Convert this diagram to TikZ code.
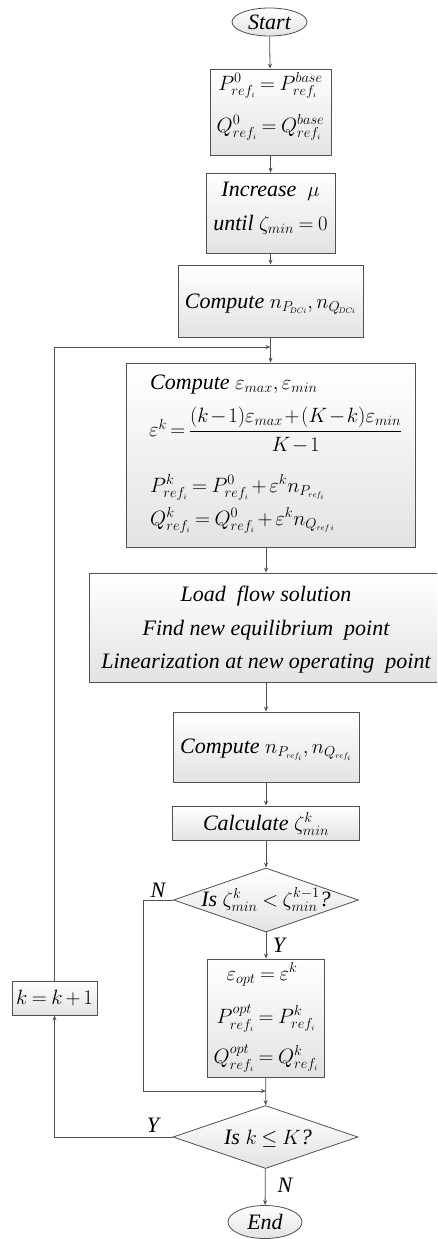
\documentclass[tikz,border=0pt]{standalone}
\usepackage{amsmath}
\usepackage{fontspec}
\setmainfont{Liberation Serif}
\DeclareMathSizes{22}{22}{13.5}{8.5}
\thickmuskip=4mu plus 2mu
\medmuskip=2.5mu plus 1mu
\usetikzlibrary{shapes.geometric,arrows.meta}
\definecolor{linec}{HTML}{505050}
\tikzset{
  every node/.style={font=\fontsize{22}{26}\selectfont\itshape, text=black},
  box/.style={draw=linec, line width=0.8pt, rectangle, top color=white, bottom color=black!11, inner sep=0pt, align=center},
  term/.style={draw=linec, line width=0.8pt, ellipse, top color=white, bottom color=black!11, inner sep=0pt},
  dec/.style={draw=linec, line width=0.8pt, diamond, aspect=2.9, top color=white, bottom color=black!11, inner sep=0pt},
  conn/.style={draw=linec, line width=0.8pt, -{Stealth[length=5pt,width=4pt]}},
  ln/.style={inner sep=0pt, anchor=base},
  lnw/.style={inner sep=0pt, anchor=base west},
  lbl/.style={inner sep=0pt}
}
\begin{document}
\begin{tikzpicture}[x=1pt,y=-1pt]
\useasboundingbox (0,0) rectangle (437,1239);
\clip (0,0) rectangle (437,1239);
% shapes
\node[term, minimum width=75pt, minimum height=28pt] (start) at (269.5,22) {Start};
\node[box, minimum width=121pt, minimum height=86pt] (b1) at (270.5,112) {};
\node[box, minimum width=129pt, minimum height=80pt] (b2) at (270.5,213) {};
\node[box, minimum width=185pt, minimum height=72pt] (b3) at (270.5,301) {};
\node[box, minimum width=289pt, minimum height=184pt] (b4) at (270.5,455) {};
\node[box, minimum width=354pt, minimum height=109pt] (b5) at (266,627.5) {};
\node[box, minimum width=186pt, minimum height=70pt] (b6) at (266,747) {};
\node[box, minimum width=187pt, minimum height=34pt] (calc) at (266,823) {};
\node[dec, minimum width=185pt, minimum height=64pt] (d1) at (266,900) {};
\node[box, minimum width=117pt, minimum height=118pt] (b7) at (266,1018) {};
\node[dec, minimum width=185pt, minimum height=63pt] (d2) at (265.5,1137) {};
\node[box, minimum width=85pt, minimum height=34pt] (kb) at (54.5,998)
  {$k=k+1$};
\node[term, minimum width=74pt, minimum height=33pt] (end) at (265,1222) {End};
% texts
\node[ln] (t1a) at (270.5,90) {$P^{0}_{ref_i}=P^{base}_{ref_i}$};
\node[ln] (t1b) at (270.5,132) {$Q^{0}_{ref_i}=Q^{base}_{ref_i}$};
\node[ln] (t2a) at (270.5,196) {Increase\ \ $\mu$};
\node[ln] (t2b) at (270.5,230) {until $\zeta_{min}=0$};
\node[ln] (t3) at (270.5,308) {Compute $n_{P_{\!DCi}},n_{Q_{\!DCi}}$};
\node[lnw] (t4a) at (150,389) {Compute $\varepsilon_{max},\varepsilon_{min}$};
\node[inner sep=0pt, anchor=west] (t4b) at (149,430)
  {\thickmuskip=3mu\medmuskip=1.5mu$\varepsilon^{k}=\dfrac{(k-1)\varepsilon_{max}+(K-k)\varepsilon_{min}}{K-1}$};
\node[lnw] (t4c) at (150,492) {$P^{k}_{ref_i}=P^{0}_{ref_i}+\varepsilon^{k}n_{P_{ref_i}}$};
\node[lnw] (t4d) at (150,525) {$Q^{k}_{ref_i}=Q^{0}_{ref_i}+\varepsilon^{k}n_{Q_{ref\,i}}$};
\node[ln] (t5a) at (266,601) {Load\ \ flow\ solution};
\node[ln] (t5b) at (266,635) {Find\ new\ equilibrium\ \ point};
\node[ln] (t5c) at (266,668) {Linearization\ at\ new\ operating\ \ point};
\node[ln] (t6) at (266,753) {Compute $n_{P_{ref_i}},n_{Q_{ref_i}}$};
\node[ln] (tc) at (266,830) {Calculate $\zeta^{k}_{min}$};
\node[ln] (td1) at (266,906) {Is $\zeta^{k}_{min}<\zeta^{k-1}_{min}$?};
\node[ln] (t7a) at (262,980) {$\varepsilon_{opt}=\varepsilon^{k}$};
\node[ln] (t7b) at (266,1023) {$P^{opt}_{ref_i}=P^{k}_{ref_i}$};
\node[ln] (t7c) at (266,1063) {$Q^{opt}_{ref_i}=Q^{k}_{ref_i}$};
\node[ln] (td2) at (268,1144) {Is $k\le K$?};
% connectors
\coordinate (j1) at (270.5,347);
\coordinate (nl) at (143,900);
\coordinate (j2) at (266,1091);
\draw[conn] (start) -- (b1);
\draw[conn] (b1) -- (b2);
\draw[conn] (b2) -- (b3);
\draw[conn] (b3) -- (b4);
\draw[conn] (b5.north |- b4.south) -- (b5.north);
\draw[conn] (b5) -- (b6);
\draw[conn] (b6) -- (calc);
\draw[conn] (calc) -- (d1);
\draw[conn] (d1) -- (b7);
\draw[conn] (b7) -- (d2);
\draw[conn] (d2) -- (end);
\draw[conn] (d2.west) -| (kb.south);
\draw[conn] (kb.north) |- (j1);
\draw[conn] (d1.west) -- (nl) |- (j2);
\node[lbl] (ln1) at (158,890) {N};
\node[lbl] (ly1) at (279,945) {Y};
\node[lbl] (ly2) at (153,1125) {Y};
\node[lbl] (ln2) at (285,1185) {N};
\end{tikzpicture}
\end{document}
